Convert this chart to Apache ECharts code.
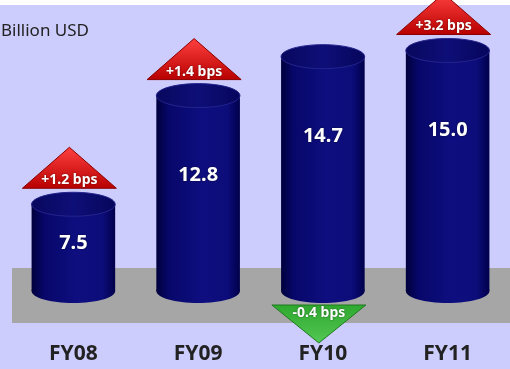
<!DOCTYPE html>
<html>
<head>
<meta charset="utf-8">
<script src="https://cdn.jsdelivr.net/npm/echarts@6/dist/echarts.min.js"></script>
<style>
  html, body { margin: 0; padding: 0; background: #cdcdfd; }
  #chart { width: 510px; height: 369px; }
</style>
</head>
<body>
<div id="chart"></div>
<script>
const categories = ["FY08", "FY09", "FY10", "FY11"];
const values = [7.5, 12.8, 14.7, 15.0];
const changes = [1.2, 1.4, -0.4, 3.2];
const changeLabels = ["+1.2 bps", "+1.4 bps", "-0.4 bps", "+3.2 bps"];

const yMin = 3.27;
const chart = echarts.init(document.getElementById("chart"));

const bodyGrad = () =>
  new echarts.graphic.LinearGradient(0, 0, 1, 0, [
    { offset: 0, color: "#00003c" },
    { offset: 0.15, color: "#07076a" },
    { offset: 0.55, color: "#0e0e80" },
    { offset: 0.85, color: "#0c0c7a" },
    { offset: 1, color: "#00004a" },
  ]);

function renderCylinder(params, api) {
  const p = api.coord([api.value(0), api.value(1)]);
  const base = api.coord([api.value(0), yMin])[1];
  const w = api.size([1, 0])[0] * 0.67;
  const rx = w / 2, ry = 12;
  const x = p[0], top = p[1];
  const labelY = top + Math.min(80, 0.45 * (base - top));
  return {
    type: "group",
    children: [
      { type: "ellipse", shape: { cx: x, cy: base, rx: rx, ry: ry }, style: { fill: bodyGrad() } },
      { type: "rect", shape: { x: x - rx, y: top, width: w, height: base - top }, style: { fill: bodyGrad() } },
      {
        type: "ellipse",
        shape: { cx: x, cy: top, rx: rx, ry: ry },
        style: {
          fill: new echarts.graphic.LinearGradient(0, 0, 1, 0, [
            { offset: 0, color: "#08085e" },
            { offset: 0.5, color: "#0e0e78" },
            { offset: 1, color: "#06065c" },
          ]),
          stroke: "#24248e",
          lineWidth: 1,
        },
      },
      {
        type: "text",
        style: {
          x: x, y: labelY,
          text: api.value(1).toFixed(1),
          fill: "#ffffff",
          font: "bold 20px 'Noto Sans'",
          align: "center", verticalAlign: "middle",
          textShadowColor: "rgba(0,0,0,0.6)", textShadowBlur: 2,
        },
      },
    ],
  };
}

function renderArrow(params, api) {
  const i = params.dataIndex;
  const p = api.coord([api.value(0), api.value(1)]);
  const base = api.coord([api.value(0), yMin])[1];
  const d = api.value(2);
  const x = p[0] - 4, hw = 47, ry = 12;
  let b, apex, textY, fill;
  if (d >= 0) {
    b = p[1] - ry - 4; apex = b - 41; textY = b - 8;
    fill = new echarts.graphic.LinearGradient(0, 0, 0, 1, [
      { offset: 0, color: "#ff4040" },
      { offset: 1, color: "#b80000" },
    ]);
  } else {
    b = base + ry + 2; apex = b + 38; textY = b + 8;
    fill = new echarts.graphic.LinearGradient(0, 0, 0, 1, [
      { offset: 0, color: "#2ea82e" },
      { offset: 1, color: "#54c854" },
    ]);
  }
  return {
    type: "group",
    children: [
      {
        type: "polygon",
        shape: { points: [[x - hw, b], [x + hw, b], [x, apex]] },
        style: { fill: fill, stroke: d >= 0 ? "#8a0000" : "#1e7a1e", lineWidth: 1 },
      },
      {
        type: "text",
        style: {
          x: x, y: textY,
          text: changeLabels[i],
          fill: "#ffffff",
          font: "bold 14px 'Noto Sans'",
          align: "center", verticalAlign: "middle",
          textShadowColor: "rgba(0,0,0,0.5)", textShadowBlur: 2,
        },
      },
    ],
  };
}

chart.setOption({
  backgroundColor: "#cdcdfd",
  animation: false,
  title: {
    text: "Billion USD",
    left: -4,
    top: 18,
    textStyle: { color: "#222222", fontSize: 17, fontWeight: "normal", fontFamily: "Noto Sans" },
  },
  graphic: [
    { type: "rect", shape: { x: 0, y: 0, width: 510, height: 5 }, style: { fill: "#ffffff" } },
    { type: "rect", shape: { x: 12, y: 268, width: 500, height: 55 }, style: { fill: "#a6a6a6" } },
  ],
  grid: { left: 11, width: 502, top: 30, bottom: 78 },
  xAxis: {
    type: "category",
    data: categories,
    axisLine: { show: false },
    axisTick: { show: false },
    axisLabel: {
      margin: 53,
      color: "#222222",
      fontSize: 21,
      fontWeight: "bold",
      fontFamily: "Noto Sans",
    },
  },
  yAxis: { type: "value", min: yMin, max: 16, show: false },
  series: [
    {
      type: "custom",
      renderItem: renderCylinder,
      data: categories.map((c, i) => [i, values[i]]),
      z: 3,
    },
    {
      type: "custom",
      renderItem: renderArrow,
      data: categories.map((c, i) => [i, values[i], changes[i]]),
      z: 4,
    },
  ],
});
</script>
</body>
</html>
